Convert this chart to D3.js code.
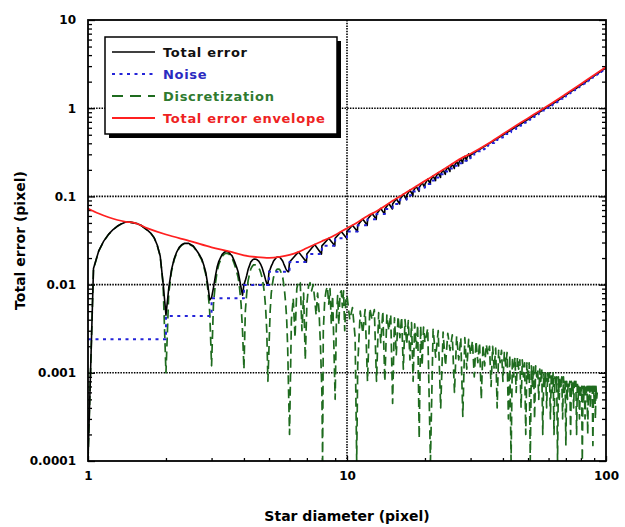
<!DOCTYPE html>
<html>
<head>
<meta charset="utf-8">
<script src="https://cdn.jsdelivr.net/npm/d3@7"></script>
<style>
  body { margin: 0; background: #fff; }
  svg { display: block; font-family: "DejaVu Sans", Verdana, sans-serif; }
</style>
</head>
<body>
<svg id="chart" width="625" height="527"></svg>
<script>
// Datos (diametro en pixel, error en pixel)
const xTicks = [1, 10, 100];
const yTicks = [0.0001, 0.001, 0.01, 0.1, 1, 10];
const yTickLabels = ["0.0001", "0.001", "0.01", "0.1", "1", "10"];

const legendLabels = ["Total error", "Noise", "Discretization", "Total error envelope"];

// Ruido: escalones (valor constante desde d hasta d+1)
const noise = [
  [1,.0024],[2,.0044],[3,.0070],[4,.0099],[5,.0140],[6,.0180],[7,.0222],[8,.0275],[9,.0335],[10,.040],
  [11,.047],[12,.055],[13,.063],[14,.072],[15,.082],[16,.092],[17,.103],[18,.114],[19,.126],[20,.138],
  [21,.151],[22,.164],[23,.178],[24,.192],[25,.207],[26,.222],[27,.238],[28,.254],[29,.271],[30,.288],
  [31,.306],[32,.324],[33,.343],[34,.362],[35,.382],[36,.402],[37,.423],[38,.444],[39,.466],[40,.488],
  [41,.511],[42,.534],[43,.558],[44,.582],[45,.607],[46,.632],[47,.658],[48,.684],[49,.711],[50,.738],
  [51,.766],[52,.794],[53,.823],[54,.852],[55,.882],[56,.912],[57,.943],[58,.974],[59,1.006],[60,1.04],
  [61,1.07],[62,1.10],[63,1.14],[64,1.17],[65,1.21],[66,1.24],[67,1.28],[68,1.32],[69,1.36],[70,1.40],
  [71,1.44],[72,1.48],[73,1.52],[74,1.56],[75,1.60],[76,1.64],[77,1.69],[78,1.73],[79,1.78],[80,1.82],
  [81,1.87],[82,1.91],[83,1.96],[84,2.01],[85,2.06],[86,2.11],[87,2.16],[88,2.21],[89,2.26],[90,2.31],
  [91,2.36],[92,2.42],[93,2.47],[94,2.53],[95,2.58],[96,2.64],[97,2.70],[98,2.75],[99,2.81],[100,2.87]
];

// Discretizacion
const discretization = [
  [1,.0001],[1.05,.015],[1.1,.024],[1.15,.031],[1.2,.037],[1.25,.042],[1.3,.046],[1.35,.049],[1.4,.051],[1.45,.051],
  [1.5,.050],[1.55,.049],[1.6,.047],[1.65,.044],[1.7,.041],[1.75,.038],[1.8,.034],[1.85,.028],[1.9,.021],[1.95,.010],
  [2,.001],[2.05,.008],[2.1,.014],[2.15,.019],[2.2,.023],[2.25,.026],[2.3,.028],[2.35,.029],[2.4,.029],[2.45,.029],
  [2.5,.028],[2.55,.027],[2.6,.025],[2.65,.023],[2.7,.021],[2.75,.019],[2.8,.016],[2.85,.013],[2.9,.009],[2.95,.005],
  [3,.0012],[3.05,.006],[3.1,.010],[3.15,.014],[3.2,.017],[3.25,.019],[3.3,.021],[3.35,.022],[3.4,.0226],[3.45,.0226],
  [3.5,.0222],[3.55,.021],[3.6,.020],[3.65,.018],[3.7,.016],[3.75,.014],[3.8,.012],[3.85,.009],[3.9,.006],[3.95,.003],
  [4,.0011],[4.05,.005],[4.1,.008],[4.15,.011],[4.2,.013],[4.25,.015],[4.3,.016],[4.35,.0167],[4.4,.0168],[4.45,.0167],
  [4.5,.0163],[4.55,.0157],[4.6,.0148],[4.65,.0135],[4.7,.012],[4.75,.010],[4.8,.008],[4.85,.0055],[4.9,.003],[4.95,.0008],
  [5,.002],[5.05,.005],[5.1,.008],[5.15,.010],[5.2,.012],[5.25,.013],[5.3,.014],[5.35,.0148],[5.4,.015],[5.45,.015],
  [5.5,.0148],[5.55,.014],[5.6,.013],[5.65,.012],[5.7,.010],[5.75,.008],[5.8,.006],[5.85,.004],[5.9,.002],[5.95,.0006],
  [6,.0002],[6.1,.004],[6.2,.007],[6.3,.0025],[6.4,.009],[6.5,.011],[6.6,.0105],[6.7,.003],[6.8,.008],[6.9,.0014],
  [7,.006],[7.1,.0095],[7.2,.0105],[7.3,.0085],[7.4,.010],[7.5,.007],[7.6,.0045],[7.7,.008],[7.8,.005],[7.9,.002],
  [8,.0006],[8.05,.0001],[8.1,.003],[8.2,.0065],[8.3,.0085],[8.4,.0095],[8.5,.006],[8.6,.009],[8.7,.0035],[8.8,.0075],
  [8.9,.002],[9,.0005],[9.1,.004],[9.2,.0075],[9.3,.0035],[9.4,.008],[9.5,.0085],[9.6,.0055],[9.7,.0085],[9.8,.003],
  [9.9,.007],[10,.0075],[10.25,.004],[10.5,.0055],[10.75,.0025],[10.9,.0001],[11,.0012],[11.25,.005],[11.5,.0028],[11.75,.0052],
  [12,.0008],[12.25,.0054],[12.5,.004],[12.75,.0052],[13,.0008],[13.25,.0048],[13.5,.0022],[13.75,.005],[14,.0008],[14.25,.0045],
  [14.5,.003],[14.75,.0046],[15,.00045],[15.25,.0042],[15.5,.0016],[15.75,.0044],[16,.0025],[16.25,.0043],[16.5,.0011],[16.75,.004],
  [17,.0021],[17.25,.0039],[17.5,.0014],[17.75,.0037],[18,.0008],[18.25,.0036],[18.5,.0019],[18.75,.0035],[19,.00018],[19.25,.0034],
  [19.5,.0012],[19.75,.0033],[20,.0022],[20.5,.0032],[21,.0001],[21.5,.0031],[22,.0015],[22.5,.0030],[23,.0004],[23.5,.0029],
  [24,.0012],[24.5,.0028],[25,.0018],[25.5,.0027],[26,.0006],[26.5,.0026],[27,.0014],[27.5,.0025],[28,.00032],[28.5,.0025],
  [29,.0011],[29.5,.0024],[30,.0016],[30.5,.0023],[31,.0009],[31.5,.0023],[32,.0013],[32.5,.0022],[33,.0005],[33.5,.0021],
  [34,.0012],[34.5,.0021],[35,.0016],[35.5,.0020],[36,.0007],[36.5,.0020],[37,.0011],[37.5,.0019],[38,.0004],[38.5,.0018],
  [39,.0013],[39.5,.0018],[40,.0008],[40.5,.0017],[41,.0012],[41.5,.0017],[42,.0003],[42.5,.0016],[43,.0001],[43.5,.0015],
  [44,.0009],[44.5,.0015],[45,.0006],[45.5,.0015],[46,.0011],[46.5,.0014],[47,.0004],[47.5,.0014],[48,.0009],[48.5,.0013],
  [49,.0002],[49.5,.0013],[50,.0008],[50.5,.0013],[51,.0001],[51.5,.0012],[52,.0007],[52.5,.0012],[53,.0003],[53.5,.0012],
  [54,.0009],[54.5,.0011],[55,.0005],[55.5,.0011],[56,.0008],[56.5,.0011],[57,.0002],[57.5,.0010],[58,.0007],[58.5,.0010],
  [59,.0004],[59.5,.0010],[60,.0008],[60.5,.0010],[61,.0003],[61.5,.0010],[62,.0006],[62.5,.0010],[63,.0002],[63.5,.0009],
  [64,.0007],[64.5,.0009],[65,.0001],[65.5,.0009],[66,.0005],[66.5,.0009],[67,.0007],[67.5,.0009],[68,.0003],[68.5,.0009],
  [69,.0006],[69.5,.0008],[70,.00015],[70.5,.0008],[71,.0005],[71.5,.0008],[72,.0007],[72.5,.0008],[73,.0002],[73.5,.0008],
  [74,.0006],[74.5,.0008],[75,.0004],[75.5,.0008],[76,.0007],[76.5,.0008],[77,.0002],[77.5,.0008],[78,.0005],[78.5,.0007],
  [79,.0003],[79.5,.0007],[80,.0006],[80.5,.0007],[81,.0001],[81.5,.0007],[82,.0005],[82.5,.0007],[83,.0003],[83.5,.0007],
  [84,.0006],[84.5,.0007],[85,.0002],[85.5,.0007],[86,.0005],[86.5,.0007],[87,.0004],[87.5,.0007],[88,.0006],[88.5,.0007],
  [89,.00015],[89.5,.0007],[90,.0005],[90.5,.0007],[91,.0003],[91.5,.0007],[92,.0005],[92.5,.0006]
];

// Error total
const totalError = [
  [1,.0001],[1.05,.0152],[1.1,.0241],[1.15,.0311],[1.2,.0371],[1.25,.0421],[1.3,.0461],[1.35,.0491],[1.4,.0511],[1.45,.0511],
  [1.5,.0501],[1.55,.0491],[1.6,.0471],[1.65,.0441],[1.7,.0411],[1.75,.0381],[1.8,.0341],[1.85,.0281],[1.9,.0211],[1.95,.0103],
  [2,.0045],[2.05,.0091],[2.1,.0147],[2.15,.0195],[2.2,.0234],[2.25,.0264],[2.3,.0283],[2.35,.0293],[2.4,.0293],[2.45,.0293],
  [2.5,.0283],[2.55,.0274],[2.6,.0254],[2.65,.0234],[2.7,.0215],[2.75,.0195],[2.8,.0166],[2.85,.0137],[2.9,.0100],[2.95,.0067],
  [3,.0071],[3.05,.0092],[3.1,.0122],[3.15,.0157],[3.2,.0184],[3.25,.0202],[3.3,.0221],[3.35,.0231],[3.4,.0237],[3.45,.0237],
  [3.5,.0233],[3.55,.0221],[3.6,.0212],[3.65,.0193],[3.7,.0175],[3.75,.0157],[3.8,.0139],[3.85,.0114],[3.9,.0092],[3.95,.0076],
  [4,.0100],[4.05,.0111],[4.1,.0127],[4.15,.0148],[4.2,.0163],[4.25,.0180],[4.3,.0188],[4.35,.0194],[4.4,.0195],[4.45,.0194],
  [4.5,.0191],[4.55,.0186],[4.6,.0178],[4.65,.0168],[4.7,.0156],[4.75,.0141],[4.8,.0127],[4.85,.0113],[4.9,.0103],[4.95,.0099],
  [5,.0141],[5.05,.0149],[5.1,.0162],[5.15,.0172],[5.2,.0184],[5.25,.0191],[5.3,.0198],[5.35,.0204],[5.4,.0205],[5.45,.0205],
  [5.5,.0204],[5.55,.0198],[5.6,.0191],[5.65,.0184],[5.7,.0172],[5.75,.0162],[5.8,.0152],[5.85,.0146],[5.9,.0141],[5.95,.0140],
  [6,.018],[6.5,.0235],[6.97,.018],[7,.0222],[7.5,.0285],[7.97,.0222],[8,.0275],[8.5,.0335],[8.97,.0275],
  [9,.0335],[9.5,.040],[9.97,.0335],[10,.040],[10.5,.047],[10.97,.040],[11,.047],[11.5,.0555],[11.97,.047],
  [12,.055],[12.5,.064],[12.97,.055],[13,.063],[13.5,.073],[13.97,.063],[14,.072],[14.5,.083],[14.97,.072],
  [15,.082],[15.5,.094],[15.97,.082],[16,.092],[16.5,.106],[16.97,.092],[17,.103],[17.5,.118],[17.97,.103],
  [18,.114],[18.5,.130],[18.97,.114],[19,.126],[19.5,.143],[19.97,.126],[20,.138],[20.5,.157],[20.97,.138],
  [21,.151],[21.5,.171],[21.97,.151],[22,.164],[22.5,.186],[22.97,.164],[23,.178],[23.5,.201],[23.97,.178],
  [24,.192],[24.5,.217],[24.97,.192],[25,.207],[25.5,.233],[25.97,.207],[26,.222],[26.5,.250],[26.97,.222],
  [27,.238],[27.5,.267],[27.97,.238],[28,.254],[28.5,.285],[28.97,.254],[29,.271],[29.5,.303],[29.97,.271],
  [30,.295],[32,.33],[34,.37],[36,.41],[38,.452],[40,.497],[42,.543],[44,.59],[46,.64],[48,.692],
  [50,.748],[52,.804],[54,.862],[56,.922],[58,.985],[60,1.05],[62,1.11],[64,1.18],[66,1.25],[68,1.33],
  [70,1.41],[72,1.49],[74,1.57],[76,1.65],[78,1.74],[80,1.83],[82,1.92],[84,2.02],[86,2.12],[88,2.22],
  [90,2.32],[92,2.43],[94,2.54],[96,2.65],[98,2.76],[100,2.88]
];

// Envolvente del error total
const envelope = [
  [1,.073],[1.1,.064],[1.2,.058],[1.3,.054],[1.4,.0515],[1.5,.0505],[1.7,.0435],[2,.037],[2.5,.031],[3,.0265],
  [3.5,.0238],[4,.0215],[4.5,.0205],[5,.0201],[5.5,.0206],[6,.0217],[6.5,.0235],[7,.026],[7.5,.0285],[8,.031],
  [8.5,.0335],[9,.0365],[9.5,.040],[10,.0435],[11,.051],[12,.060],[13,.068],[14,.078],[15,.089],[16,.100],
  [18,.124],[20,.150],[22,.178],[25,.225],[28,.277],[30,.305],[35,.395],[40,.51],[45,.635],[50,.77],
  [55,.92],[60,1.08],[70,1.45],[80,1.88],[90,2.38],[100,2.93]
];

// Estilos por serie
const seriesStyle = {
  disc:  { color: '#1e6b1e', width: 1.7, dash: '9,5' },
  total: { color: '#000000', width: 1.6, dash: null },
  noise: { color: '#2323d8', width: 2,   dash: '3,4.5' },
  env:   { color: '#ff2020', width: 1.8, dash: null }
};

const svg = d3.select("#chart");
const margin = { left: 88, top: 20, right: 19, bottom: 66 };
const W = 625, H = 527;
const x0 = margin.left, x1 = W - margin.right;
const y0 = margin.top, y1 = H - margin.bottom;

const x = d3.scaleLog().domain([1, 100]).range([x0, x1]);
const y = d3.scaleLog().domain([0.0001, 10]).range([y1, y0]);

// Recorte del area de trazado
svg.append("clipPath").attr("id", "clip")
  .append("rect").attr("x", x0).attr("y", y0).attr("width", x1 - x0).attr("height", y1 - y0);

// Lineas de rejilla punteadas
const grid = svg.append("g").attr("stroke", "#000").attr("stroke-width", 1.6).attr("stroke-dasharray", "1.5,1.2");
grid.selectAll("line.gy").data(yTicks.filter(v => v > 0.0001 && v < 10)).enter().append("line")
  .attr("x1", x0).attr("x2", x1).attr("y1", d => y(d)).attr("y2", d => y(d));
grid.selectAll("line.gx").data(xTicks.filter(v => v > 1 && v < 100)).enter().append("line")
  .attr("y1", y0).attr("y2", y1).attr("x1", d => x(d)).attr("x2", d => x(d));

// Ejes (marcas hacia dentro)
const yMinor = y.ticks().filter(v => !yTicks.includes(v));
const xMinor = x.ticks().filter(v => !xTicks.includes(v));

function styleAxis(g) {
  g.select(".domain").remove();
  g.selectAll(".tick line").attr("stroke", "#000").attr("stroke-width", 1.3);
  g.selectAll("text").attr("font-family", "DejaVu Sans").attr("font-weight", "bold")
    .attr("font-size", 12).attr("fill", "#000");
}

svg.append("g").attr("transform", `translate(${x0},0)`)
  .call(d3.axisLeft(y).tickValues(yTicks).tickSize(-7).tickPadding(12)
    .tickFormat((d, i) => yTickLabels[i]))
  .call(styleAxis);
svg.append("g").attr("transform", `translate(${x0},0)`)
  .call(d3.axisLeft(y).tickValues(yMinor).tickSize(-4).tickFormat(""))
  .call(styleAxis);
svg.append("g").attr("transform", `translate(${x1},0)`)
  .call(d3.axisRight(y).tickValues(yMinor).tickSize(-4).tickFormat(""))
  .call(styleAxis);
svg.append("g").attr("transform", `translate(${x1},0)`)
  .call(d3.axisRight(y).tickValues(yTicks).tickSize(-7).tickFormat(""))
  .call(styleAxis);
svg.append("g").attr("transform", `translate(0,${y1})`)
  .call(d3.axisBottom(x).tickValues(xTicks).tickSize(-5).tickPadding(10).tickFormat(d3.format("d")))
  .call(styleAxis);
svg.append("g").attr("transform", `translate(0,${y1})`)
  .call(d3.axisBottom(x).tickValues(xMinor).tickSize(-3).tickFormat(""))
  .call(styleAxis);

// Series
const plot = svg.append("g").attr("clip-path", "url(#clip)");
const line = d3.line().x(d => x(d[0])).y(d => y(d[1]));

function drawSeries(data, st, curve) {
  plot.append("path").datum(data)
    .attr("fill", "none")
    .attr("stroke", st.color)
    .attr("stroke-width", st.width)
    .attr("stroke-dasharray", st.dash)
    .attr("stroke-linejoin", "round")
    .attr("d", line.curve(curve)(data));
}

drawSeries(discretization, seriesStyle.disc, d3.curveLinear);
drawSeries(totalError, seriesStyle.total, d3.curveLinear);
drawSeries(noise, seriesStyle.noise, d3.curveStepAfter);
drawSeries(envelope, seriesStyle.env, d3.curveMonotoneX);

// Marco
svg.append("rect").attr("x", x0).attr("y", y0).attr("width", x1 - x0).attr("height", y1 - y0)
  .attr("fill", "none").attr("stroke", "#000").attr("stroke-width", 1.8);

// Leyenda con sombra
const lg = svg.append("g").attr("transform", "translate(105,37)");
const lgW = 232, lgH = 97;
lg.append("rect").attr("x", 4).attr("y", 4).attr("width", lgW).attr("height", lgH).attr("fill", "#000");
lg.append("rect").attr("width", lgW).attr("height", lgH).attr("fill", "#fff")
  .attr("stroke", "#000").attr("stroke-width", 1.5);

const legendStyles = [
  { color: '#000000', dash: null, width: 1.6, text: '#111111' },
  { color: '#2323d8', dash: '3,4.5', width: 2, text: '#2a2ac0' },
  { color: '#1e6b1e', dash: '11,7', width: 2, text: '#2f7a2f' },
  { color: '#ff2020', dash: null, width: 1.8, text: '#ee2222' }
];

legendLabels.forEach((lab, i) => {
  const cy = 15 + i * 22;
  lg.append("line").attr("x1", 7).attr("x2", 50).attr("y1", cy).attr("y2", cy)
    .attr("stroke", legendStyles[i].color).attr("stroke-width", legendStyles[i].width)
    .attr("stroke-dasharray", legendStyles[i].dash);
  lg.append("text").attr("x", 58).attr("y", cy + 5)
    .attr("font-size", 13).attr("font-weight", "bold").attr("letter-spacing", 0.7)
    .attr("fill", legendStyles[i].text).text(lab);
});

// Titulos de los ejes
svg.append("text").attr("x", (x0 + x1) / 2).attr("y", 521).attr("text-anchor", "middle")
  .attr("font-size", 14).attr("font-weight", "bold").text("Star diameter (pixel)");
svg.append("text").attr("transform", `translate(25,${(y0 + y1) / 2}) rotate(-90)`)
  .attr("text-anchor", "middle").attr("font-size", 14).attr("font-weight", "bold")
  .text("Total error (pixel)");
</script>
</body>
</html>
